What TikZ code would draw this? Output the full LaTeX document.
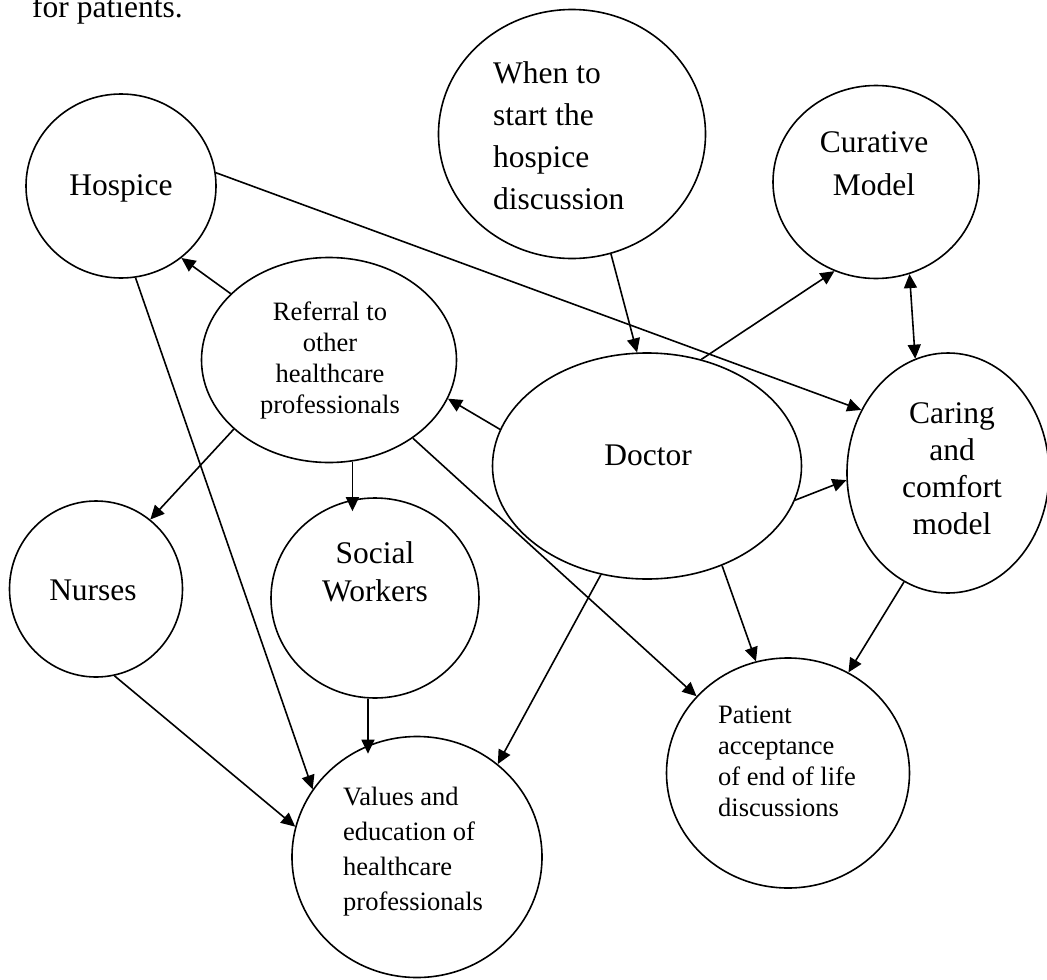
\documentclass[tikz,border=0pt]{standalone}
\usepackage{fontspec}
\setmainfont{Liberation Serif}
\usetikzlibrary{arrows.meta,shapes.geometric}
\begin{document}
\begin{tikzpicture}[x=1pt,y=-1pt,
  bubble/.style={ellipse,draw,line width=1.6pt,inner sep=0pt},
  txt/.style={inner sep=0pt},
  arr/.style={line width=1.6pt,-{Triangle[length=14pt,width=13pt]}},
  darr/.style={line width=1.6pt,{Triangle[length=14pt,width=13pt]}-{Triangle[length=14pt,width=13pt]}}]
\useasboundingbox (0,0) rectangle (1047,980);

% shapes
\node[bubble,minimum width=190pt,minimum height=184pt] (hosp) at (121,186) {};
\node[bubble,minimum width=267pt,minimum height=249pt] (when) at (572,134) {};
\node[bubble,minimum width=206pt,minimum height=193pt] (cur)  at (876,182) {};
\node[bubble,minimum width=255pt,minimum height=205pt] (ref)  at (329,360) {};
\node[bubble,minimum width=309pt,minimum height=226pt] (doc)  at (647,466) {};
\node[bubble,minimum width=202pt,minimum height=240pt] (car)  at (948,473) {};
\node[bubble,minimum width=173pt,minimum height=176pt] (nur)  at (96,589) {};
\node[bubble,minimum width=208pt,minimum height=200pt] (soc)  at (375,598) {};
\node[bubble,minimum width=243pt,minimum height=230pt] (pat)  at (788,773) {};
\node[bubble,minimum width=250pt,minimum height=241pt] (val)  at (417,857) {};

% texts
\node[txt,anchor=base west,font=\fontsize{31.5}{38}\selectfont] (forpat) at (32,17) {for patients.};
\node[txt,anchor=base,font=\fontsize{31.5}{38}\selectfont] (hospT) at (121,195) {Hospice};
\node[txt,anchor=base west,font=\fontsize{31.5}{42}\selectfont] (whenT) at (493,83)
  {\begin{tabular}[t]{@{}l@{}}When to\\start the\\hospice\\discussion\end{tabular}};
\node[txt,anchor=base,font=\fontsize{31.5}{43}\selectfont] (curT) at (874,152)
  {\begin{tabular}[t]{@{}c@{}}Curative\\Model\end{tabular}};
\node[txt,anchor=base,font=\fontsize{26.5}{31}\selectfont] (refT) at (330,320)
  {\begin{tabular}[t]{@{}c@{}}Referral to\\other\\healthcare\\professionals\end{tabular}};
\node[txt,anchor=base,font=\fontsize{31.5}{38}\selectfont] (docT) at (648,465) {Doctor};
\node[txt,anchor=base,font=\fontsize{31.5}{37}\selectfont] (carT) at (952,423)
  {\begin{tabular}[t]{@{}c@{}}Caring\\and\\comfort\\model\end{tabular}};
\node[txt,anchor=base,font=\fontsize{31.5}{38}\selectfont] (nurT) at (93,600) {Nurses};
\node[txt,anchor=base,font=\fontsize{31.5}{38}\selectfont] (socT) at (375,563)
  {\begin{tabular}[t]{@{}c@{}}Social\\Workers\end{tabular}};
\node[txt,anchor=base west,font=\fontsize{26.5}{31}\selectfont] (patT) at (718,723)
  {\begin{tabular}[t]{@{}l@{}}Patient\\acceptance\\of end of life\\discussions\end{tabular}};
\node[txt,anchor=base west,font=\fontsize{26.5}{35}\selectfont] (valT) at (343,805)
  {\begin{tabular}[t]{@{}l@{}}Values and\\education of\\healthcare\\professionals\end{tabular}};

% connectors
\draw[arr] (ref.146) -- (hosp.-50);
\draw[arr] (hosp.8) -- (car.144);
\draw[arr] (when.-72) -- (doc.95);
\draw[arr] (doc.63) -- (cur.245);
\draw[darr] (cur.-70) -- (car.106);
\draw[arr] (doc.166) -- (ref.-18);
\draw[arr] (doc.-13) -- (car.184);
\draw[arr] (doc.-113) -- (val.49);
\draw[arr] (doc.-53) -- (pat.106);
\draw[arr] (ref.-43) -- (pat.140);
\draw[arr] (car.-112) -- (pat.59);
\draw[arr] (hosp.-81) -- (val.147);
\draw[arr] (ref.-144) -- (nur.52);
\draw[arr,shorten >=-14pt] (ref.-77) -- (ref.-77 |- soc.north);
\draw[arr,shorten >=-18pt] (soc.-94) -- (soc.-94 |- val.north);
\draw[arr] (nur.-78) -- (val.166);
\end{tikzpicture}
\end{document}
